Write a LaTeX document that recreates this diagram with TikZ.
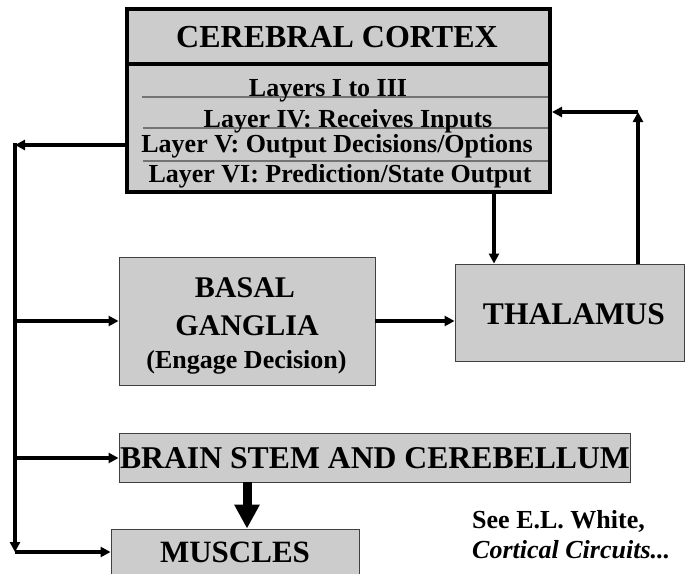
\documentclass[tikz,border=0pt]{standalone}
\usepackage{fontspec}
\setmainfont{Liberation Serif}
\usetikzlibrary{arrows.meta}
\newcommand\myfs[1]{\fontsize{#1}{#1}\selectfont}
\tikzset{
  box/.style={draw=black!75, fill=black!20, line width=0.9pt, rectangle, inner sep=0pt},
  conn/.style={line width=3.2pt, -{Triangle[length=10pt,width=10pt]}},
  bigconn/.style={line width=9pt, -{Triangle[length=24pt,width=24pt]}},
  lbl/.style={inner sep=0pt, anchor=base},
  layerline/.style={draw=black!55, line width=1.2pt},
}
\begin{document}
\begin{tikzpicture}[x=1pt,y=-1pt]
\useasboundingbox (0,0) rectangle (685,573);
\clip (0,0) rectangle (685,573);

% boxes
\node[box, draw=black, line width=4pt, minimum width=423pt, minimum height=183pt] (cortex) at (338.5,100.5) {};
\node[box, minimum width=256pt, minimum height=128pt] (bg) at (247,321) {};
\node[box, minimum width=229pt, minimum height=97pt] (thal) at (569.5,312.5) {};
\node[box, minimum width=511pt, minimum height=49pt] (bs) at (374.5,457.5) {};
\node[box, minimum width=248pt, minimum height=52pt] (mus) at (235,555) {};

% cortex inner separators
\draw[line width=4pt] (127,64) -- (550,64);
\draw[layerline] (142,97) -- (548,97);
\draw[layerline] (143,128) -- (548,128);
\draw[layerline] (143,161) -- (548,161);

% texts
\node[lbl, font=\bfseries\myfs{32}] (title) at (337,47) {CEREBRAL CORTEX};
\node[lbl, font=\bfseries\myfs{26}] (l1) at (328,96) {Layers I to III};
\node[lbl, font=\bfseries\myfs{26}] (l2) at (348,127) {Layer IV: Receives Inputs};
\node[lbl, font=\bfseries\myfs{26}] (l3) at (337,152) {Layer V: Output Decisions/Options};
\node[lbl, font=\bfseries\myfs{26}] (l4) at (340,182) {Layer VI: Prediction/State Output};

\node[lbl, font=\bfseries\myfs{30}] (bg1) at (245,297) {BASAL};
\node[lbl, font=\bfseries\myfs{30}] (bg2) at (247,335) {GANGLIA};
\node[lbl, font=\bfseries\myfs{26}] (bg3) at (246.5,368) {(Engage Decision)};

\node[lbl, font=\bfseries\myfs{31.5}] (thalt) at (574,324) {THALAMUS};
\node[lbl, font=\bfseries\myfs{31.7}] (bst) at (375,468) {BRAIN STEM AND CEREBELLUM};
\node[lbl, font=\bfseries\myfs{31}] (must) at (235,562) {MUSCLES};

\node[lbl, anchor=base west, font=\bfseries\myfs{26}] (note1) at (472,528) {See E.L. White,};
\node[lbl, anchor=base west, font=\bfseries\itshape\myfs{26}] (note2) at (472,558) {Cortical Circuits...};

% connector points
\coordinate (ctop) at (15,145);
\coordinate (cbot) at (15,552);
\coordinate (jbg) at (15,321);
\coordinate (jbs) at (15,458);
\coordinate (cx) at (494,0);
\coordinate (tup) at (638,112);
\coordinate (tk) at (247,0);

% connectors
\draw[conn] (cortex.west |- ctop) -- (ctop);
\draw[conn, shorten <=-1.6pt] (ctop) -- (cbot);
\draw[conn] (cbot) -- (mus.west |- cbot);
\draw[conn] (jbg) -- (bg.west |- jbg);
\draw[conn] (jbs) -- (bs.west |- jbs);
\draw[conn] (bg.east |- jbg) -- (thal.west |- jbg);
\draw[conn] (cortex.south -| cx) -- (thal.north -| cx);
\draw[conn] (thal.north -| tup) -- (tup);
\draw[conn] (tup) -- (cortex.east |- tup);
\draw[bigconn] (bs.south -| tk) -- (mus.north -| tk);
\end{tikzpicture}
\end{document}
